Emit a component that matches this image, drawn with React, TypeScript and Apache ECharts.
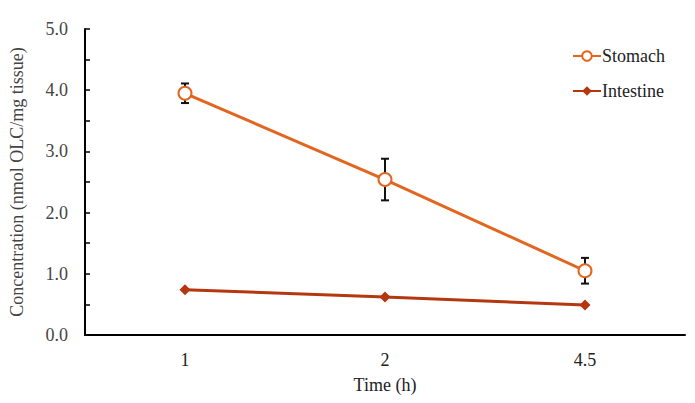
import React, { useEffect, useRef } from "react";
import * as echarts from "echarts";

const categories = ["1", "2", "4.5"];
const stomach = [3.95, 2.54, 1.05];
const stomachErr = [0.16, 0.34, 0.21];
const intestine = [0.74, 0.62, 0.49];

const FONT = "Liberation Serif";

export default function App() {
  const ref = useRef<HTMLDivElement>(null);
  useEffect(() => {
    const chart = echarts.init(ref.current!, undefined, { renderer: "svg" });
    const errData = stomach.map((v, i) => [i, v - stomachErr[i], v + stomachErr[i]]);
    chart.setOption({
      animation: false,
      textStyle: { fontFamily: FONT },
      grid: { left: 82, right: 10, top: 29, bottom: 68, containLabel: false },
      legend: {
        orient: "vertical",
        left: 567,
        top: 42,
        itemGap: 17,
        itemWidth: 28,
        itemHeight: 12,
        textStyle: { fontFamily: FONT, fontSize: 18, color: "#222", padding: [0, 0, 0, -4] },
        data: ["Stomach", "Intestine"],
      },
      xAxis: {
        type: "category",
        data: categories,
        boundaryGap: true,
        axisLine: { lineStyle: { color: "#000", width: 2 } },
        axisTick: { show: false },
        axisLabel: { color: "#222", fontSize: 18, fontFamily: FONT, margin: 16 },
        name: "Time (h)",
        nameLocation: "middle",
        nameGap: 41,
        nameTextStyle: { color: "#222", fontSize: 18, fontFamily: FONT },
      },
      yAxis: {
        type: "value",
        min: 0,
        max: 5,
        interval: 1,
        axisLine: { show: true, lineStyle: { color: "#000", width: 2 } },
        axisTick: { show: true, inside: true, length: 5, lineStyle: { color: "#000", width: 1.5 } },
        minorTick: { show: true, splitNumber: 2, length: 5, lineStyle: { color: "#000", width: 1.5 } },
        splitLine: { show: false },
        axisLabel: {
          color: "#444",
          fontSize: 18,
          fontFamily: FONT,
          margin: 17,
          formatter: (v: number) => v.toFixed(1),
        },
        name: "Concentration (nmol OLC/mg tissue)",
        nameLocation: "middle",
        nameGap: 59,
        nameRotate: 90,
        nameTextStyle: { color: "#444", fontSize: 18, fontFamily: FONT },
      },
      series: [
        {
          name: "Stomach",
          type: "line",
          data: stomach,
          symbol: "emptyCircle",
          symbolSize: 13,
          z: 3,
          lineStyle: { color: "#E2661F", width: 3 },
          itemStyle: { color: "#E2661F", borderWidth: 2.5, borderColor: "#E2661F" },
        },
        {
          name: "Intestine",
          type: "line",
          data: intestine,
          symbol: "diamond",
          symbolSize: 11,
          lineStyle: { color: "#B5370F", width: 3 },
          itemStyle: { color: "#B5370F" },
        },
        {
          name: "err",
          type: "custom",
          z: 2,
          data: errData,
          renderItem: (params: any, api: any) => {
            const x = api.value(0);
            const lo = api.coord([x, api.value(1)]);
            const hi = api.coord([x, api.value(2)]);
            const w = 4;
            const style = { stroke: "#111", lineWidth: 2 };
            return {
              type: "group",
              children: [
                { type: "line", shape: { x1: lo[0], y1: lo[1], x2: hi[0], y2: hi[1] }, style },
                { type: "line", shape: { x1: lo[0] - w, y1: lo[1], x2: lo[0] + w, y2: lo[1] }, style },
                { type: "line", shape: { x1: hi[0] - w, y1: hi[1], x2: hi[0] + w, y2: hi[1] }, style },
              ],
            };
          },
        },
      ],
    });
    return () => chart.dispose();
  }, []);
  return <div ref={ref} style={{ width: 695, height: 403, position: "absolute", left: 0, top: 0, background: "#fff" }} />;
}
